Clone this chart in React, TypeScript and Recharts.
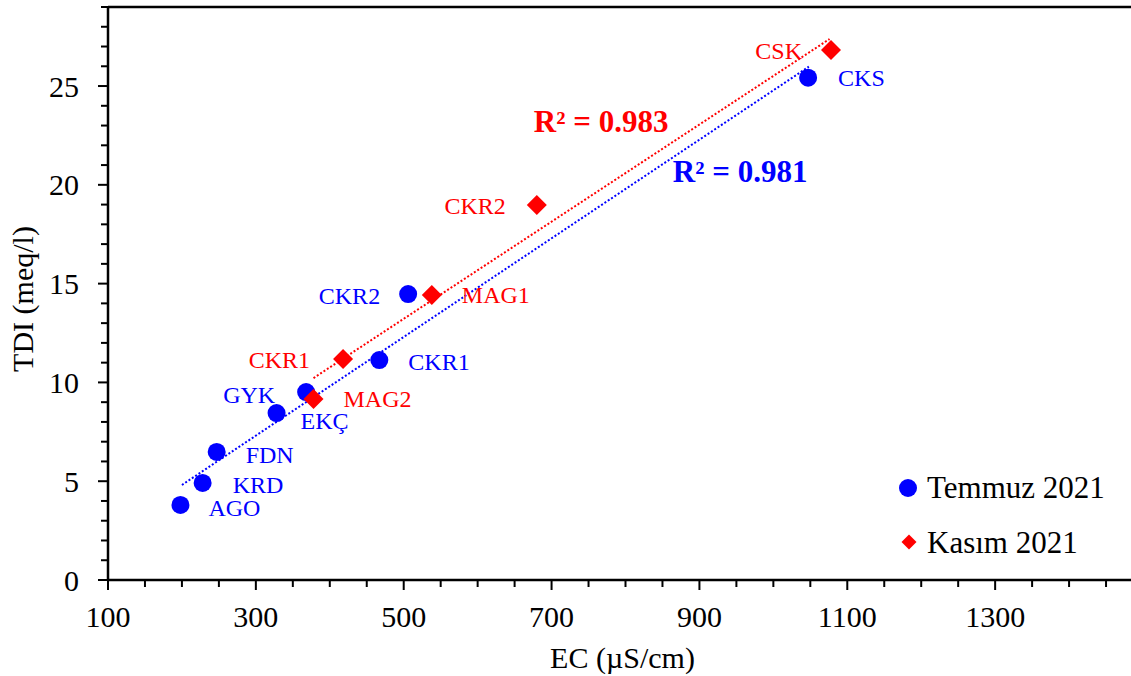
import React from "react";
import { ScatterChart, Scatter, XAxis, YAxis, ReferenceLine, ReferenceDot, Legend } from "recharts";

const FONT = '"Liberation Serif", "Times New Roman", Times, serif';
const BLUE = "#0000ff";
const RED = "#ff0000";

// Temmuz 2021
const temmuzNames = ["AGO", "KRD", "FDN", "EKÇ", "GYK", "CKR1", "CKR2", "CKS"];
const temmuzEC = [198, 228, 247, 328, 368, 467, 506, 1047];
const temmuzTDI = [3.8, 4.91, 6.48, 8.45, 9.51, 11.13, 14.47, 25.42];

// Kasım 2021
const kasimNames = ["MAG2", "CKR1", "MAG1", "CKR2", "CSK"];
const kasimEC = [378, 418, 538, 680, 1078];
const kasimTDI = [9.16, 11.18, 14.42, 18.98, 26.82];

// ends of the dotted trend lines
const temmuzTrendEC = [200, 1048];
const temmuzTrendTDI = [4.81, 25.98];
const kasimTrendEC = [378, 1076];
const kasimTrendTDI = [10.22, 27.38];

const r2Text = ["R² = 0.981", "R² = 0.983"];
const r2EC = [864, 676];
const r2TDI = [20.14, 22.67];

// labelled ticks (the axis runs on past 1300 but the picture is cut there)
const xMajor = [100, 300, 500, 700, 900, 1100, 1300];
const yMajor = [0, 5, 10, 15, 20, 25];
const xTicks = Array.from({ length: 28 }, (_, i) => 100 + i * 50);
const yTicks = Array.from({ length: 30 }, (_, i) => i);

const temmuz = temmuzNames.map((name, i) => ({ name, ec: temmuzEC[i], tdi: temmuzTDI[i] }));
const kasim = kasimNames.map((name, i) => ({ name, ec: kasimEC[i], tdi: kasimTDI[i] }));

// label placement next to each marker: dx, dy (baseline), anchor
const labelPos: Record<string, [number, number, "start" | "end"]> = {
  "t-AGO": [28, 11, "start"],
  "t-KRD": [30, 10, "start"],
  "t-FDN": [29, 11, "start"],
  "t-EKÇ": [24, 16, "start"],
  "t-GYK": [-31, 11, "end"],
  "t-CKR1": [29, 10, "start"],
  "t-CKR2": [-28, 10, "end"],
  "t-CKS": [30, 8, "start"],
  "k-MAG2": [30, 8, "start"],
  "k-CKR1": [-33, 9, "end"],
  "k-MAG1": [30, 8, "start"],
  "k-CKR2": [-31, 9, "end"],
  "k-CSK": [-29, 9, "end"],
};

const diamond = (cx: number, cy: number, h: number) =>
  `M${cx},${cy - h} L${cx + h},${cy} L${cx},${cy + h} L${cx - h},${cy} Z`;

const PointLabel = ({ cx, cy, text, key2, color }: any) => {
  const [dx, dy, anchor] = labelPos[key2] || [28, 9, "start"];
  return (
    <text x={cx + dx} y={cy + dy} textAnchor={anchor} fontSize={24} fontFamily={FONT} fill={color}>
      {text}
    </text>
  );
};

const CircleMark = (p: any) => (
  <g>
    <circle cx={p.cx} cy={p.cy} r={9} fill={BLUE} />
    <PointLabel cx={p.cx} cy={p.cy} text={p.payload.name} key2={"t-" + p.payload.name} color={BLUE} />
  </g>
);

const DiamondMark = (p: any) => (
  <g>
    <path d={diamond(p.cx, p.cy, 10)} fill={RED} />
    <PointLabel cx={p.cx} cy={p.cy} text={p.payload.name} key2={"k-" + p.payload.name} color={RED} />
  </g>
);

const XTick = ({ x, y, payload }: any) => {
  const major = xMajor.includes(payload.value);
  return (
    <g>
      <line x1={x} x2={x} y1={y} y2={y + (major ? 10 : 7)} stroke="#000" strokeWidth={2} />
      {major && (
        <text x={x} y={y + 47} textAnchor="middle" fontSize={30} fontFamily={FONT} fill="#000">
          {payload.value}
        </text>
      )}
    </g>
  );
};

const YTick = ({ x, y, payload }: any) => {
  const major = yMajor.includes(payload.value);
  return (
    <g>
      <line x1={x} x2={x - (major ? 10 : 7)} y1={y} y2={y} stroke="#000" strokeWidth={2} />
      {major && (
        <text x={x - 29} y={y + 10.5} textAnchor="end" fontSize={30} fontFamily={FONT} fill="#000">
          {payload.value}
        </text>
      )}
    </g>
  );
};

const renderLegend = () => (
  <svg width={236} height={100} style={{ display: "block" }}>
    <circle cx={13} cy={22} r={9} fill={BLUE} />
    <text x={32} y={32} fontSize={31} fontFamily={FONT} fill="#000">Temmuz 2021</text>
    <path d={diamond(14, 76, 7.5)} fill={RED} />
    <text x={32} y={87} fontSize={31} fontFamily={FONT} fill="#000">Kasım 2021</text>
  </svg>
);

const R2Shape = (text: string, color: string) => (p: any) => (
  <text x={p.cx} y={p.cy} fontSize={31} fontWeight="bold" fontFamily={FONT} fill={color}>
    {text}
  </text>
);

export default function App() {
  return (
    <div style={{ position: "fixed", left: 0, top: 0, width: 1131, height: 676, overflow: "hidden", background: "#fff" }}>
      <ScatterChart width={1153} height={676} margin={{ top: 7, right: 10, bottom: 10, left: 0 }}>
        <XAxis
          type="number"
          dataKey="ec"
          domain={[100, 1500]}
          ticks={xTicks}
          interval={0}
          tickSize={0}
          tickMargin={0}
          tickLine={false}
          tick={<XTick />}
          height={86}
          axisLine={{ stroke: "#000", strokeWidth: 2.5 }}
          label={{
            content: (p: any) => (
              <text
                x={p.viewBox.x + p.viewBox.width / 2 - 3}
                y={p.viewBox.y + 88}
                textAnchor="middle"
                fontSize={30}
                fontFamily={FONT}
                fill="#000"
              >
                EC (µS/cm)
              </text>
            ),
          }}
        />
        <YAxis
          type="number"
          dataKey="tdi"
          domain={[0, 29]}
          ticks={yTicks}
          interval={0}
          tickSize={0}
          tickMargin={0}
          tickLine={false}
          tick={<YTick />}
          width={108}
          axisLine={{ stroke: "#000", strokeWidth: 2.5 }}
          label={{
            content: () => (
              <text
                x={33}
                y={299}
                transform="rotate(-90, 33, 299)"
                textAnchor="middle"
                fontSize={30}
                fontFamily={FONT}
                fill="#000"
              >
                TDI (meq/l)
              </text>
            ),
          }}
        />
        <ReferenceLine y={29} stroke="#000" strokeWidth={2.5} />
        <ReferenceLine
          segment={[
            { x: temmuzTrendEC[0], y: temmuzTrendTDI[0] },
            { x: temmuzTrendEC[1], y: temmuzTrendTDI[1] },
          ]}
          stroke={BLUE}
          strokeWidth={2}
          strokeDasharray="2 2"
        />
        <ReferenceLine
          segment={[
            { x: kasimTrendEC[0], y: kasimTrendTDI[0] },
            { x: kasimTrendEC[1], y: kasimTrendTDI[1] },
          ]}
          stroke={RED}
          strokeWidth={2}
          strokeDasharray="2 2"
        />
        <ReferenceDot x={r2EC[0]} y={r2TDI[0]} r={0} ifOverflow="visible" shape={R2Shape(r2Text[0], BLUE)} />
        <ReferenceDot x={r2EC[1]} y={r2TDI[1]} r={0} ifOverflow="visible" shape={R2Shape(r2Text[1], RED)} />
        <Scatter name="Temmuz 2021" data={temmuz} fill={BLUE} shape={CircleMark} isAnimationActive={false} />
        <Scatter name="Kasım 2021" data={kasim} fill={RED} shape={DiamondMark} isAnimationActive={false} />
        <Legend
          layout="vertical"
          align="center"
          verticalAlign="middle"
          content={renderLegend}
          wrapperStyle={{ left: 895, top: 466, width: 236, height: 100 }}
        />
      </ScatterChart>
    </div>
  );
}
